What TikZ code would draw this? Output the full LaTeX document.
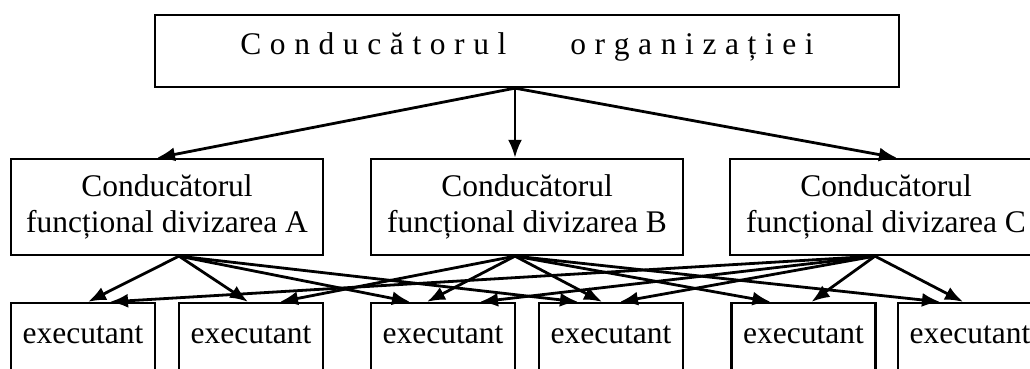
\documentclass[tikz,border=0pt]{standalone}
\usepackage{fontspec}
\setmainfont{Liberation Serif}
\usepackage{tikz}
\usetikzlibrary{arrows.meta}

\begin{document}
\begin{tikzpicture}[x=1pt,y=-1pt,
        box/.style={draw,line width=2.3pt,inner sep=0pt,align=center,
        font=\fontsize{31.5}{36}\selectfont},
        arr/.style={line width=2.8pt,-{Latex[length=18pt,width=14pt]}}]
        \useasboundingbox (0,0) rectangle (1030,369);
        \clip (0,0) rectangle (1030,369);
        \node[box,minimum width=744pt,minimum height=72pt,text height=22pt,text depth=14pt] (sef) at (527,51)
        {\spaceskip=8.6pt C o n d u c ă t o r u l\hspace{64pt}o r g a n i z a ț i e i};
        \node[box,minimum width=312pt,minimum height=96pt] (divA) at (167,207) {Conducătorul\\funcțional divizarea A};
        \node[box,minimum width=312pt,minimum height=96pt] (divB) at (527,207) {Conducătorul\\funcțional divizarea B};
        \node[box,minimum width=312pt,minimum height=96pt] (divC) at (886,207) {Conducătorul\\funcțional divizarea C};
        \foreach \i/\x in {1/83,2/251,3/443,4/611,5/803.5,6/970}
        \node[box,minimum width=144pt,minimum height=70pt,text height=18pt,text depth=8pt] (ex\i) at (\x,338) {executant};
        \draw[arr] ([xshift=-12pt]sef.south) -- ([xshift=-10pt]divA.north);
        \draw[arr] ([xshift=-12pt]sef.south) -- ([xshift=-12pt]divB.north);
        \draw[arr] ([xshift=-12pt]sef.south) -- ([xshift=11pt]divC.north);
        \foreach \d/\s/\e/\t in {divA/12pt/ex1/5pt,divA/12pt/ex2/-3pt,divA/12pt/ex3/-33pt,divA/12pt/ex4/-33pt,
                divB/-12pt/ex2/29pt,divB/-12pt/ex3/-16pt,divB/-12pt/ex4/-9pt,divB/-12pt/ex5/-33pt,divB/-12pt/ex6/-30pt,
                divC/-11pt/ex1/27pt,divC/-11pt/ex3/37pt,divC/-11pt/ex4/9pt,divC/-11pt/ex5/8pt,divC/-11pt/ex6/-7pt}
        \draw[arr] ([xshift=\s]\d.south) -- ([xshift=\t]\e.north);
\end{tikzpicture}
\end{document}
